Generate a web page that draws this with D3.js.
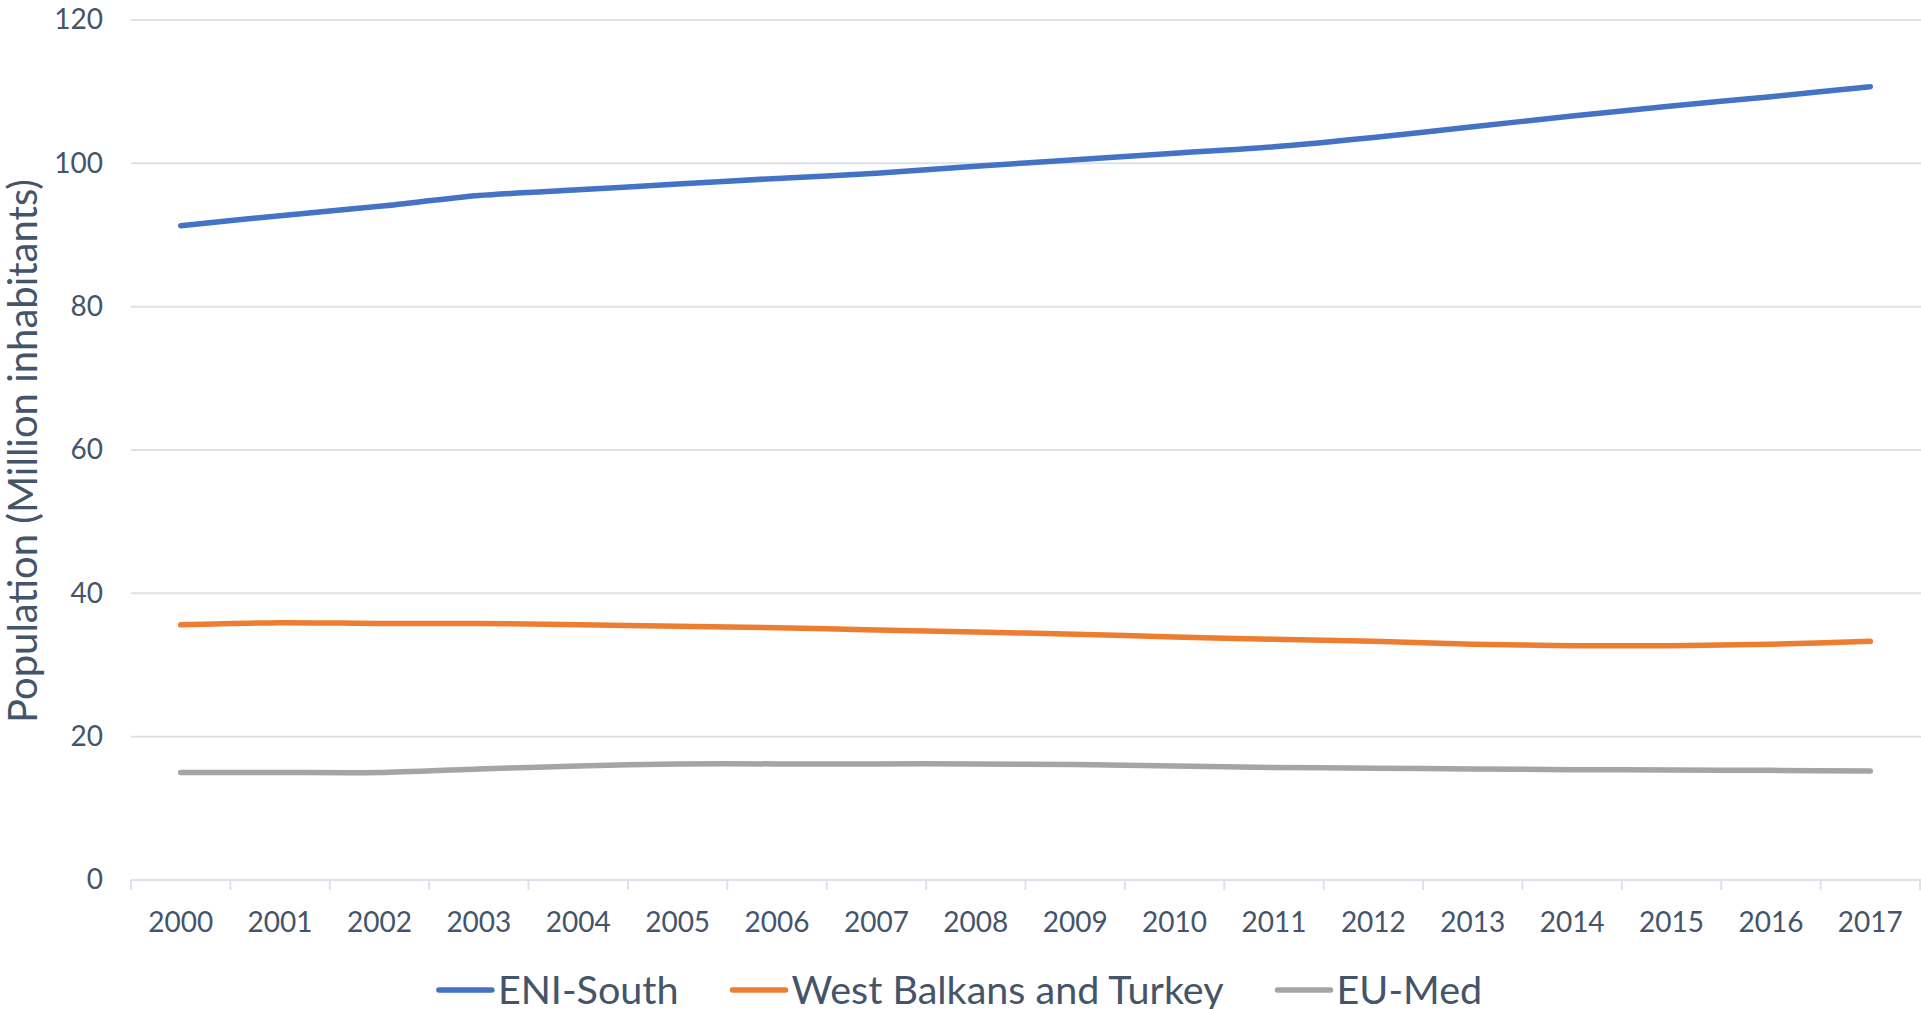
<!DOCTYPE html>
<html>
<head>
<meta charset="utf-8">
<script src="https://cdn.jsdelivr.net/npm/d3@7"></script>
<style>
  html, body { margin: 0; padding: 0; background: #ffffff; }
  svg { display: block; }
  text { font-family: Lato, "Open Sans", sans-serif; fill: #44546A; }
</style>
</head>
<body>
<svg id="chart" width="1921" height="1009"></svg>
<script>
const years = ["2000","2001","2002","2003","2004","2005","2006","2007","2008","2009","2010","2011","2012","2013","2014","2015","2016","2017"];
const eniSouth = [91.3, 92.7, 94.0, 95.5, 96.3, 97.1, 97.9, 98.6, 99.6, 100.5, 101.4, 102.3, 103.6, 105.1, 106.6, 108.0, 109.3, 110.7];
const westBalkansTurkey = [35.6, 35.9, 35.8, 35.8, 35.6, 35.4, 35.2, 34.9, 34.6, 34.3, 33.9, 33.6, 33.3, 32.9, 32.7, 32.7, 32.9, 33.3];
const euMed = [15.0, 15.0, 15.0, 15.5, 15.9, 16.2, 16.2, 16.2, 16.2, 16.1, 15.9, 15.7, 15.6, 15.5, 15.4, 15.35, 15.3, 15.2];
const yTicks = [0, 20, 40, 60, 80, 100, 120];
const seriesNames = ["ENI-South", "West Balkans and Turkey", "EU-Med"];
const seriesColors = ["#4472C4", "#ED7D31", "#A5A5A5"];
const yTitle = "Population (Million inhabitants)";

const series = [eniSouth, westBalkansTurkey, euMed];

const W = 1921, H = 1009;
const plot = { left: 131, right: 1920, top: 20, bottom: 880 };
const svg = d3.select("#chart");

const x = d3.scaleBand().domain(years).range([plot.left, plot.right]).padding(0);
const y = d3.scaleLinear().domain([0, 120]).range([plot.bottom, plot.top]);

const gridColor = "#DDE2EA";

// gridlines
svg.append("g").selectAll("line").data(yTicks.filter(d => d > 0)).join("line")
  .attr("x1", plot.left).attr("x2", W)
  .attr("y1", d => y(d)).attr("y2", d => y(d))
  .attr("stroke", gridColor).attr("stroke-width", 2);

// y axis labels
const yAxis = d3.axisLeft(y).tickValues(yTicks).tickSize(0).tickPadding(28);
const gy = svg.append("g").attr("transform", `translate(${plot.left},0)`).call(yAxis);
gy.select(".domain").remove();
gy.selectAll("text").style("font-size", "28px").attr("fill", "#44546A").attr("font-family", "Lato");

// x axis
const xAxis = d3.axisBottom(x).tickSize(0).tickPadding(32);
const gx = svg.append("g").attr("transform", `translate(0,${plot.bottom})`).call(xAxis);
gx.select(".domain").remove();
gx.selectAll("text").style("font-size", "28px").attr("fill", "#44546A").attr("font-family", "Lato");
svg.append("line").attr("x1", plot.left).attr("x2", W)
  .attr("y1", y(0)).attr("y2", y(0)).attr("stroke", gridColor).attr("stroke-width", 2);
const edges = years.map(d => x(d)).concat([x(years[years.length-1]) + x.bandwidth()]);
svg.append("g").selectAll("line").data(edges).join("line")
  .attr("x1", d => d).attr("x2", d => d)
  .attr("y1", y(0)).attr("y2", y(0) + 10)
  .attr("stroke", gridColor).attr("stroke-width", 2);

// lines
const line = d3.line()
  .x((d, i) => x(years[i]) + x.bandwidth() / 2)
  .y(d => y(d))
  .curve(d3.curveCardinal.tension(0.3));

svg.append("g").selectAll("path").data(series).join("path")
  .attr("d", d => line(d))
  .attr("fill", "none")
  .attr("stroke", (d, i) => seriesColors[i])
  .attr("stroke-width", 5.5)
  .attr("stroke-linecap", "round")
  .attr("stroke-linejoin", "round");

// y title
svg.append("text")
  .attr("transform", `translate(37,451) rotate(-90)`)
  .attr("text-anchor", "middle")
  .style("font-size", "40px")
  .text(yTitle);

// legend
const legend = svg.append("g");
const lineLen = 53, textGap = 6, itemGap = 54, legendY = 990;
const items = legend.selectAll("g").data(seriesNames).join("g");
items.append("line")
  .attr("x1", 0).attr("x2", lineLen).attr("y1", 0).attr("y2", 0)
  .attr("stroke", (d, i) => seriesColors[i]).attr("stroke-width", 5.5).attr("stroke-linecap", "round");
items.append("text")
  .attr("x", lineLen + textGap).attr("y", 0).attr("dy", "0.35em")
  .style("font-size", "39.5px")
  .text(d => d);
const widths = [];
items.each(function() {
  const w = lineLen + textGap + this.querySelector("text").getComputedTextLength();
  widths.push(w);
});
const total = d3.sum(widths) + itemGap * (widths.length - 1);
let start = W / 2 - total / 2;
items.attr("transform", (d, i) => {
  const tx = start;
  start += widths[i] + itemGap;
  return `translate(${tx},${legendY})`;
});
</script>
</body>
</html>
